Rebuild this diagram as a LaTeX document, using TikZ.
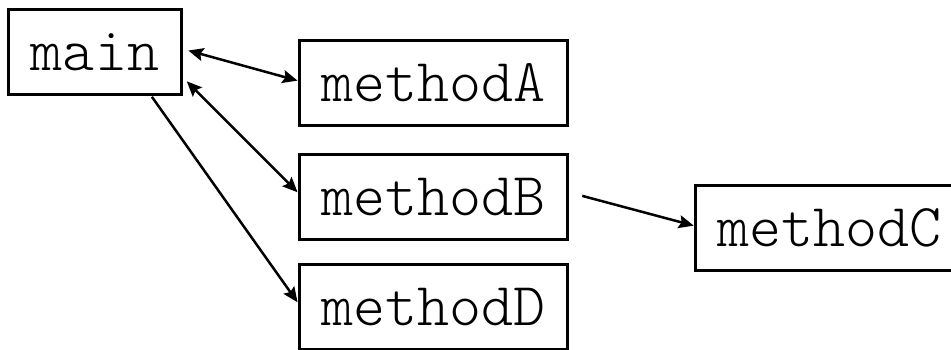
\documentclass[tikz,border=0pt]{standalone}
\usepackage{fontspec}
\usepackage{tikz}
\usetikzlibrary{arrows.meta,positioning}
\newfontfamily\codefont{lmmonolt10-regular.otf}

\begin{document}
\begin{tikzpicture}[>={Stealth[length=15pt,width=13pt,inset=2.5pt]},line width=2.5pt,
  box/.style={draw,line width=3pt,inner xsep=22pt,minimum height=85pt,
    font=\codefont\fontsize{61}{66}\selectfont}]
  \clip (0,0) rectangle (951pt,-350pt);
  \node[box] (main) at (95pt,-52pt) {main};
  \node[box] (mA) [right=115pt of main, yshift=-31pt] {methodA};
  \node[box] (mB) [below=26pt of mA] {methodB};
  \node[box] (mD) [below=22pt of mB] {methodD};
  \node[box] (mC) [right=125pt of mB, yshift=-31pt] {methodC};
 \path
  (main.2)   edge [<->,shorten <=6pt] (mA.179)
  (main.-16) edge [<->,shorten <=6pt] (mB.178)
  (main.-38) edge [->,shorten <=1pt]  (mD.178)
  (mB.2)     edge [->,shorten <=14pt] (mC.179);

\end{tikzpicture}
\end{document}
